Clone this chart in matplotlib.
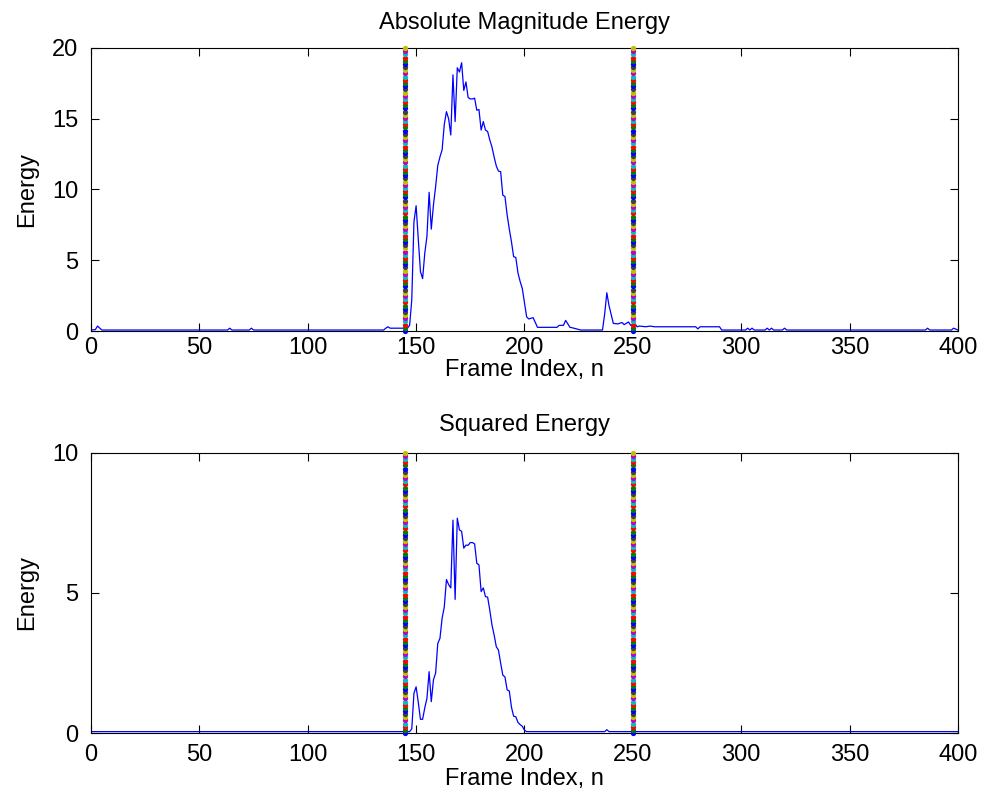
import numpy as np
import matplotlib
matplotlib.use("Agg")
import matplotlib.pyplot as plt

# (frame, value) points along each curve
abs_frames = [0, 2, 3, 5, 63, 64, 65, 73, 74, 75, 135, 136, 137, 138, 146, 147,
              148, 149, 150, 151, 152, 153, 154, 155, 156, 157, 158, 159, 160, 161,
              162, 163, 164, 165, 166, 167, 168, 169, 170, 171, 172, 173, 174, 175,
              176, 177, 178, 179, 180, 181, 182, 183, 184, 185, 186, 187, 188, 189,
              190, 191, 192, 193, 194, 195, 196, 197, 198, 199, 200, 201, 202, 203,
              204, 205, 206, 215, 216, 218, 219, 221, 222, 226, 236, 237, 238, 239,
              241, 243, 245, 246, 248, 249, 251, 252, 253, 256, 258, 260, 279, 280,
              281, 290, 291, 302, 303, 304, 305, 306, 311, 312, 313, 314, 315, 319,
              320, 321, 385, 386, 387, 397, 398, 400]
abs_energy = [0.07, 0.1, 0.35, 0.07, 0.07, 0.2, 0.07, 0.07, 0.2, 0.07, 0.07, 0.2,
              0.3, 0.2, 0.2, 0.4, 2.2, 7.7, 8.85, 6.5, 4.2, 3.7, 5.5, 6.7, 9.8, 7.2,
              8.9, 10.2, 11.7, 12.3, 12.8, 14.6, 15.5, 15.0, 13.85, 18.1, 14.8, 18.6,
              18.3, 18.96, 17.0, 17.6, 16.5, 16.4, 16.4, 16.45, 15.6, 15.65, 14.2,
              14.8, 14.2, 14.1, 13.5, 13.0, 12.3, 11.66, 11.3, 11.26, 9.6, 9.5, 8.2,
              7.2, 6.3, 5.25, 5.2, 4.1, 3.5, 3.0, 2.0, 1.0, 0.85, 0.9, 0.94, 0.6,
              0.26, 0.26, 0.4, 0.4, 0.75, 0.26, 0.23, 0.07, 0.07, 1.2, 2.7, 1.8,
              0.54, 0.5, 0.6, 0.45, 0.64, 0.4, 0.5, 0.3, 0.35, 0.3, 0.35, 0.3, 0.3,
              0.15, 0.3, 0.3, 0.07, 0.07, 0.2, 0.07, 0.2, 0.07, 0.07, 0.2, 0.07, 0.2,
              0.07, 0.07, 0.2, 0.07, 0.07, 0.2, 0.07, 0.07, 0.2, 0.07]

sq_frames = [0, 147, 148, 149, 150, 151, 152, 153, 154, 155, 156, 157, 158, 159,
             160, 161, 162, 163, 164, 165, 166, 167, 168, 169, 170, 171, 172, 173,
             174, 175, 176, 177, 178, 179, 180, 181, 182, 183, 184, 185, 186, 187,
             188, 189, 190, 191, 192, 193, 194, 195, 196, 197, 198, 199, 200, 201,
             237, 238, 239, 400]
sq_energy = [0.05, 0.05, 0.15, 1.42, 1.65, 1.1, 0.49, 0.49, 0.9, 1.24, 2.19, 1.12,
             1.9, 2.14, 3.2, 3.38, 4.1, 4.5, 5.48, 5.3, 5.18, 7.6, 4.77, 7.67, 7.25,
             7.2, 6.6, 6.71, 6.7, 6.8, 6.8, 6.75, 6.06, 6.0, 5.05, 5.18, 4.87, 4.85,
             4.39, 3.86, 3.5, 3.08, 2.96, 2.5, 2.07, 2.0, 1.54, 1.5, 0.92, 0.6, 0.58,
             0.38, 0.3, 0.24, 0.1, 0.05, 0.05, 0.12, 0.05, 0.05]

# detected start / end frames
endpoints = [145, 250]

x_ticks = [0, 50, 100, 150, 200, 250, 300, 350, 400]
abs_yticks = [0, 5, 10, 15, 20]
sq_yticks = [0, 5, 10]

# old MATLAB colour order, used for the dotted marker lines
color_order = [(0, 0, 1), (0, 0.5, 0), (1, 0, 0), (0, 0.75, 0.75),
               (0.75, 0, 0.75), (0.75, 0.75, 0), (0.25, 0.25, 0.25)]
N_DOTS = 90

FS = 17
plt.rcParams["font.family"] = ["Liberation Sans", "DejaVu Sans"]
plt.rcParams["font.size"] = FS


def style_axes(ax, yticks, ymax, title, title_pad, xpad, xlabelpad):
    ax.set_xlim(0, 400)
    ax.set_ylim(0, ymax)
    ax.set_xticks(x_ticks)
    ax.set_yticks(yticks)
    ax.tick_params(direction="in", top=True, right=True, length=6, width=0.8,
                   labelsize=FS)
    ax.tick_params(axis="y", pad=9)
    ax.tick_params(axis="x", pad=xpad)
    for s in ax.spines.values():
        s.set_linewidth(0.8)
    ax.set_title(title, fontsize=FS, pad=title_pad)
    ax.set_xlabel("Frame Index, n", fontsize=FS, labelpad=xlabelpad)
    ax.set_ylabel("Energy", fontsize=FS, labelpad=10)


def draw_endpoints(ax, ymax):
    ys = np.linspace(0, ymax, N_DOTS)
    for xe in endpoints:
        for i, yv in enumerate(ys):
            ax.plot(xe, yv, "o", color=color_order[i % len(color_order)],
                    ms=3.8, mew=0, clip_on=False, zorder=3)


fig = plt.figure(figsize=(9.84, 8.05), dpi=100)
ax1 = fig.add_axes([0.0925, 0.5888, 0.881, 0.3516])
ax2 = fig.add_axes([0.0925, 0.0894, 0.881, 0.348])

ax1.plot(abs_frames, abs_energy, color="b", lw=0.9)
draw_endpoints(ax1, 20)
style_axes(ax1, abs_yticks, 20, "Absolute Magnitude Energy", 13.5, 4, 0)

ax2.plot(sq_frames, sq_energy, color="b", lw=0.9)
draw_endpoints(ax2, 10)
style_axes(ax2, sq_yticks, 10, "Squared Energy", 16, 8, 1)

fig.savefig("out.png", dpi=100)
